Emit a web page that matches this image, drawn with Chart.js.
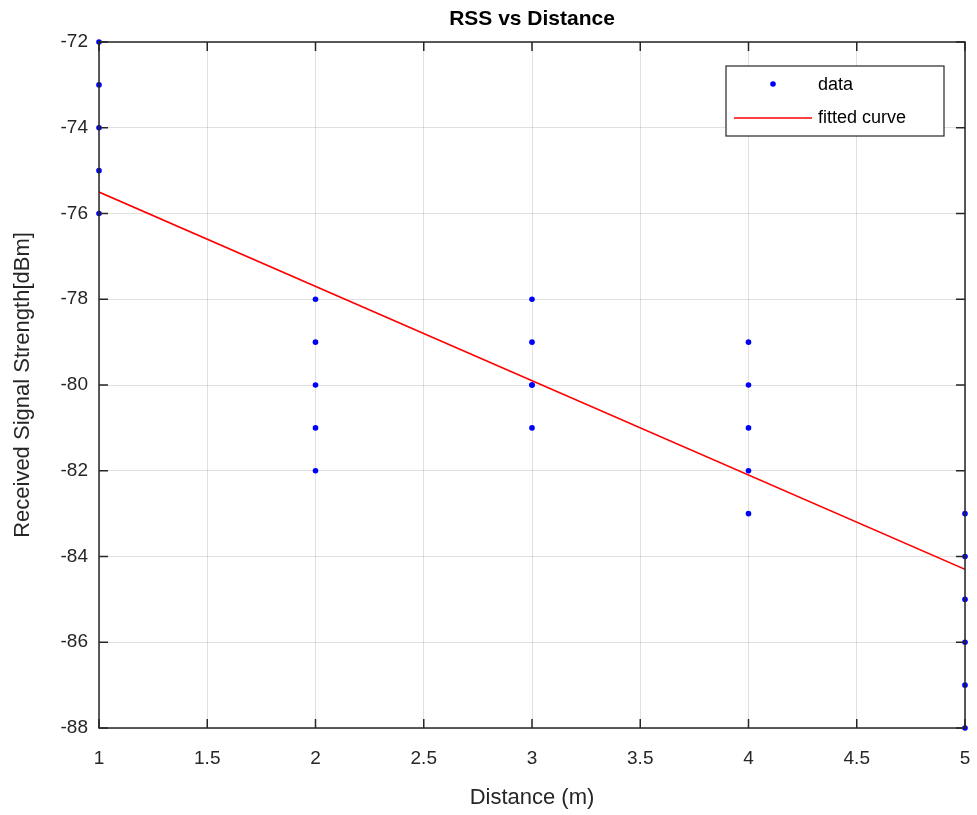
<!DOCTYPE html>
<html>
<head>
<meta charset="utf-8">
<script src="https://cdn.jsdelivr.net/npm/chart.js@4/dist/chart.umd.min.js"></script>
<style>
    html, body { margin: 0; padding: 0; background: #fff; }
    #wrap { width: 977px; height: 815px; }
</style>
</head>
<body>
<div id="wrap"><canvas id="rssChart" width="977" height="815"></canvas></div>
<script>
// measured samples
const distances = [1, 1, 1, 1, 1, 2, 2, 2, 2, 2, 3, 3, 3, 3, 3, 4, 4, 4, 4, 4, 5, 5, 5, 5, 5, 5];
const rssValues = [-72, -73, -74, -75, -76, -78, -79, -80, -81, -82, -78, -79, -80, -80, -81,
    -79, -80, -81, -82, -83, -83, -84, -85, -86, -87, -88];

// fitted line end points
const fitX = [1, 5];
const fitY = [-75.5, -84.3];

const xTicks = [1, 1.5, 2, 2.5, 3, 3.5, 4, 4.5, 5];
const yTicks = [-88, -86, -84, -82, -80, -78, -76, -74, -72];

const fontFamily = '"Liberation Sans", Arial, Helvetica, sans-serif';
const axisColor = '#262626';

// MATLAB style frame, inward ticks, title and legend
const matlabFrame = {
    id: 'matlabFrame',
    afterDraw(chart) {
        const ctx = chart.ctx;
        const a = chart.chartArea;
        const xs = chart.scales.x;
        const ys = chart.scales.y;
        ctx.save();
        ctx.strokeStyle = axisColor;
        ctx.lineWidth = 1.5;
        ctx.strokeRect(a.left, a.top, a.right - a.left, a.bottom - a.top);
        ctx.beginPath();
        xTicks.forEach(function (t) {
            const px = xs.getPixelForValue(t);
            ctx.moveTo(px, a.bottom); ctx.lineTo(px, a.bottom - 9);
            ctx.moveTo(px, a.top); ctx.lineTo(px, a.top + 9);
        });
        yTicks.forEach(function (t) {
            const py = ys.getPixelForValue(t);
            ctx.moveTo(a.left, py); ctx.lineTo(a.left + 9, py);
            ctx.moveTo(a.right, py); ctx.lineTo(a.right - 9, py);
        });
        ctx.stroke();

        // title
        ctx.fillStyle = '#000';
        ctx.font = 'bold 21px ' + fontFamily;
        ctx.textAlign = 'center';
        ctx.textBaseline = 'middle';
        ctx.fillText('RSS vs Distance', (a.left + a.right) / 2, 19);

        // legend
        const lx = 726, ly = 66, lw = 218, lh = 70;
        ctx.fillStyle = '#fff';
        ctx.fillRect(lx, ly, lw, lh);
        ctx.strokeStyle = axisColor;
        ctx.lineWidth = 1.2;
        ctx.strokeRect(lx, ly, lw, lh);
        ctx.fillStyle = '#0000ff';
        ctx.beginPath();
        ctx.arc(773, 84, 2.8, 0, Math.PI * 2);
        ctx.fill();
        ctx.strokeStyle = '#ff0000';
        ctx.lineWidth = 1.5;
        ctx.beginPath();
        ctx.moveTo(734, 118); ctx.lineTo(812, 118);
        ctx.stroke();
        ctx.fillStyle = '#000';
        ctx.font = '18px ' + fontFamily;
        ctx.textAlign = 'left';
        ctx.fillText('data', 818, 85);
        ctx.fillText('fitted curve', 818, 118);
        ctx.restore();
    }
};

const ctx = document.getElementById('rssChart').getContext('2d');

new Chart(ctx, {
    type: 'scatter',
    data: {
        datasets: [
            {
                label: 'fitted curve',
                data: fitX.map((x, i) => ({ x: x, y: fitY[i] })),
                showLine: true,
                borderColor: '#ff0000',
                borderWidth: 1.5,
                pointRadius: 0,
                fill: false,
                order: 2
            },
            {
                label: 'data',
                data: distances.map((x, i) => ({ x: x, y: rssValues[i] })),
                backgroundColor: '#0000ff',
                borderColor: '#0000ff',
                pointRadius: 2.8,
                borderWidth: 0,
                clip: false,
                order: 1
            }
        ]
    },
    options: {
        responsive: false,
        animation: false,
        layout: {
            padding: { top: 42, right: 12, left: 6, bottom: 0 }
        },
        plugins: {
            legend: { display: false },
            title: { display: false },
            tooltip: { enabled: false }
        },
        scales: {
            x: {
                type: 'linear',
                min: 1,
                max: 5,
                afterBuildTicks: function (scale) {
                    scale.ticks = xTicks.map(v => ({ value: v }));
                },
                afterFit: function (scale) {
                    scale.height = 87;
                    scale.paddingLeft = 0;
                    scale.paddingRight = 0;
                },
                grid: { color: 'rgba(0,0,0,0.12)', lineWidth: 1, drawTicks: false },
                border: { display: false },
                ticks: {
                    color: '#262626',
                    font: { family: fontFamily, size: 19 },
                    padding: 19,
                    maxRotation: 0,
                    callback: v => String(v)
                },
                title: {
                    display: true,
                    text: 'Distance (m)',
                    color: '#262626',
                    font: { family: fontFamily, size: 22 },
                    padding: { top: 6 }
                }
            },
            y: {
                type: 'linear',
                min: -88,
                max: -72,
                afterBuildTicks: function (scale) {
                    scale.ticks = yTicks.map(v => ({ value: v }));
                },
                afterFit: function (scale) { scale.width = 93; },
                grid: { color: 'rgba(0,0,0,0.12)', lineWidth: 1, drawTicks: false },
                border: { display: false },
                ticks: {
                    color: '#262626',
                    font: { family: fontFamily, size: 19 },
                    padding: 11,
                    callback: v => String(v)
                },
                title: {
                    display: true,
                    text: 'Received Signal Strength[dBm]',
                    color: '#262626',
                    font: { family: fontFamily, size: 22 },
                    padding: { bottom: 4 }
                }
            }
        }
    },
    plugins: [matlabFrame]
});
</script>
</body>
</html>
